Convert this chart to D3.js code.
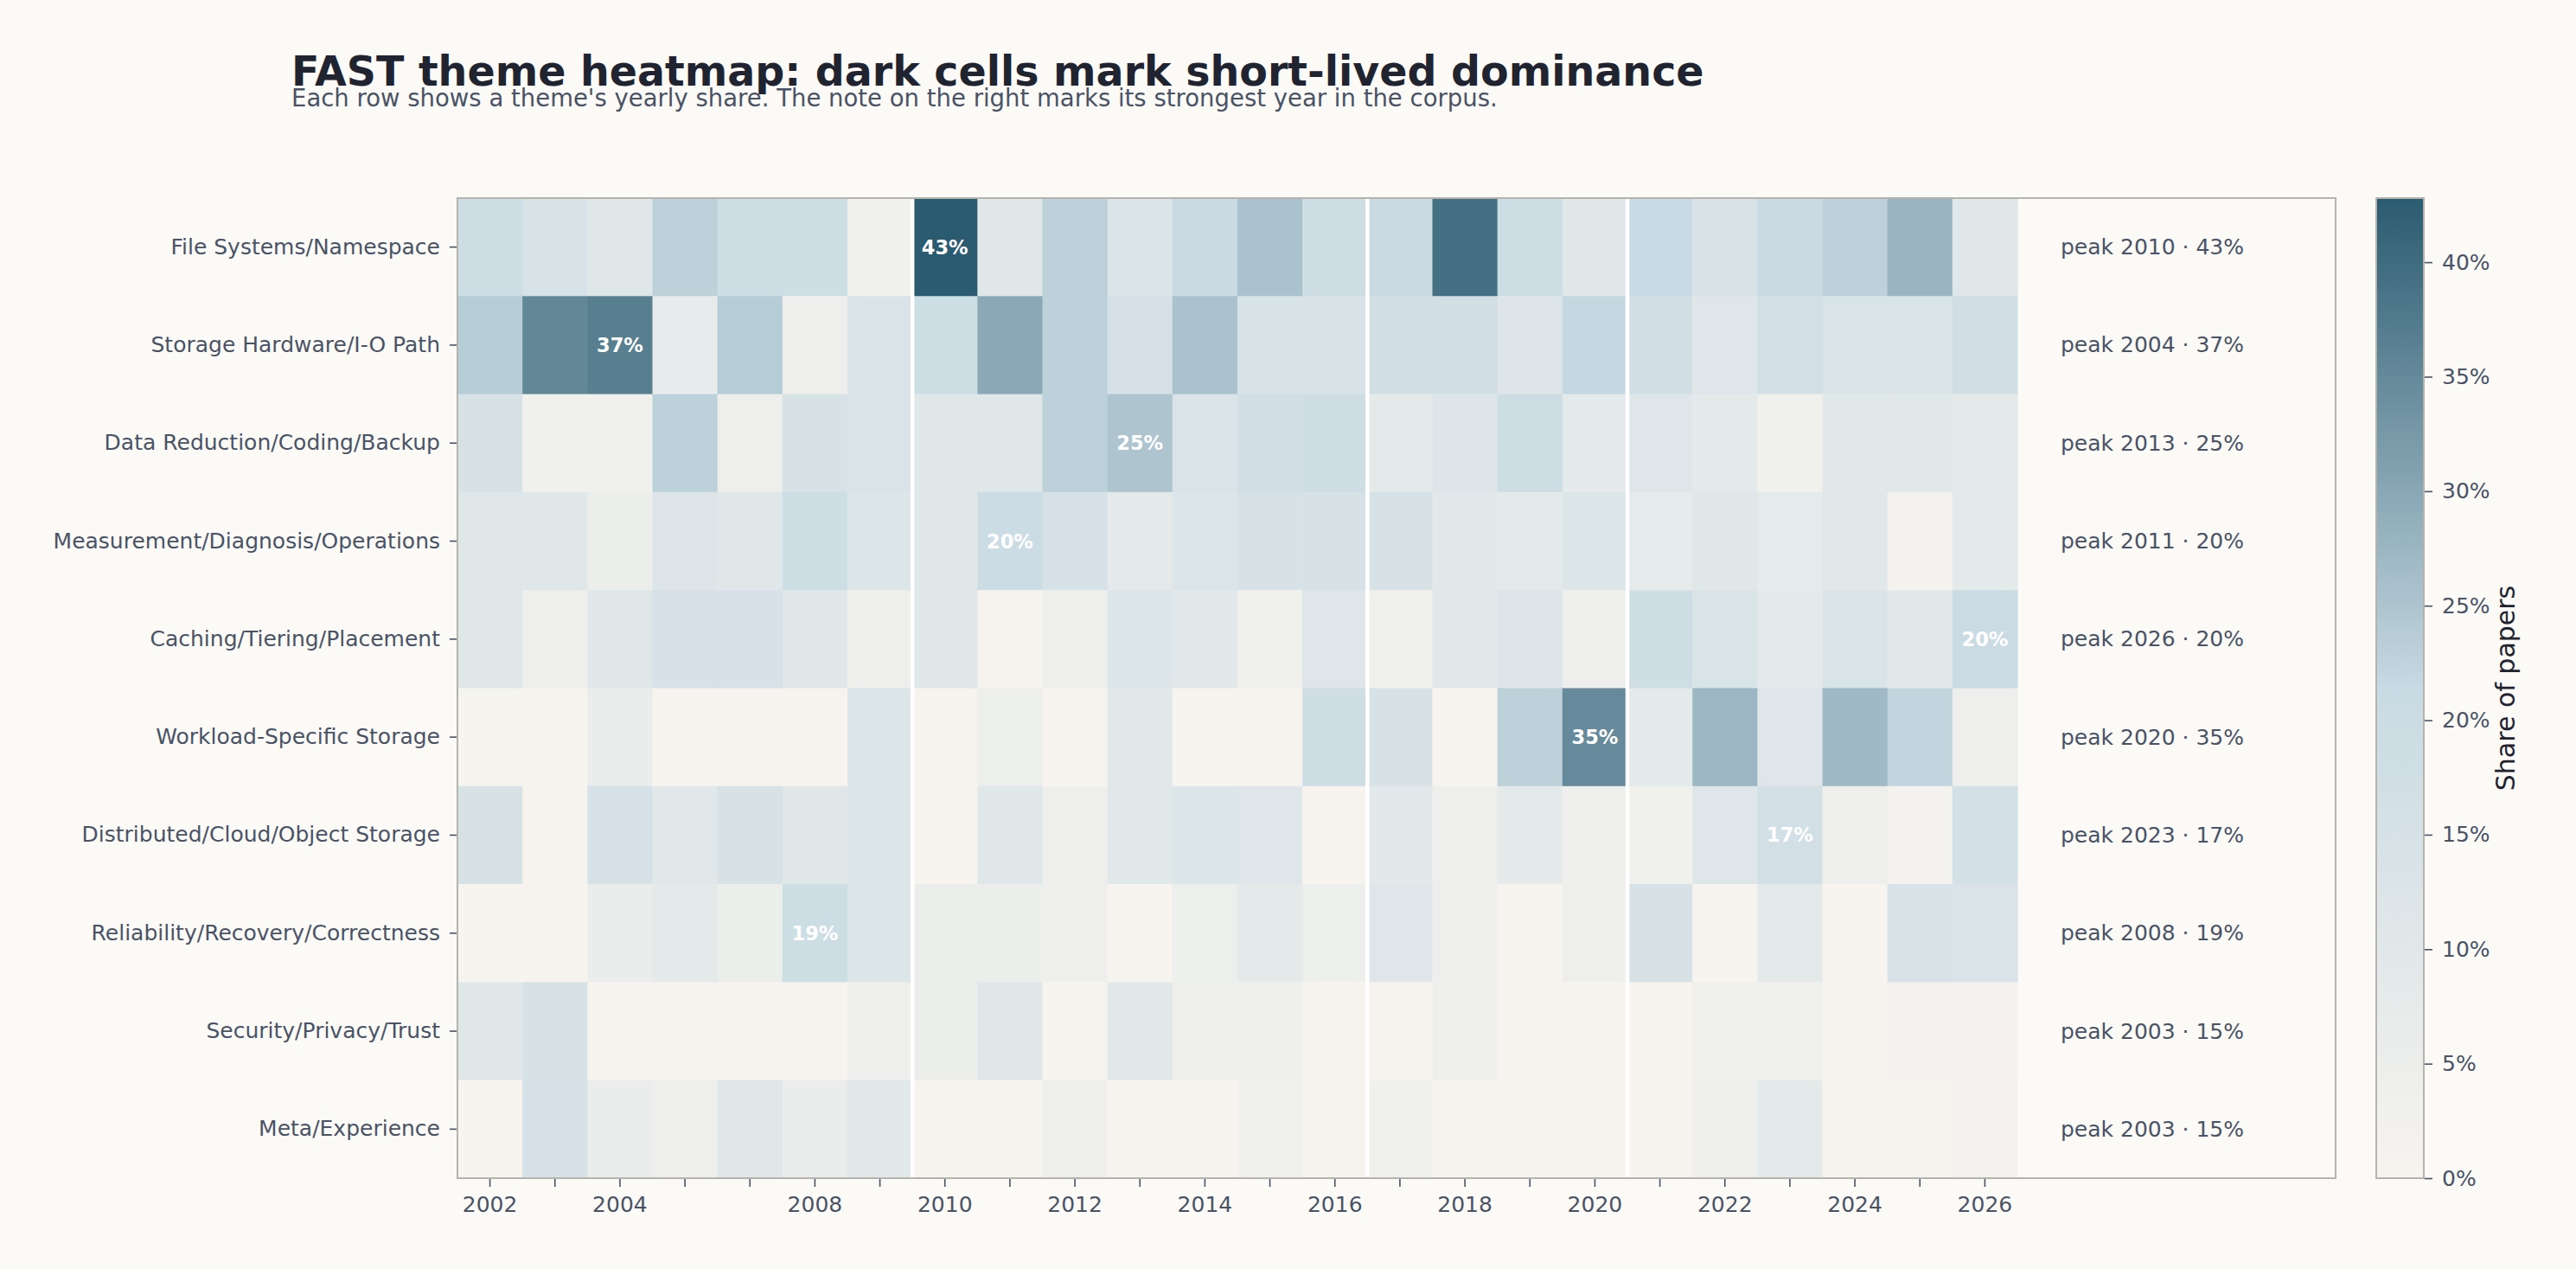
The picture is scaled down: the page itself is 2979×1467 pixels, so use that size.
<!DOCTYPE html>
<html>
<head>
<meta charset="utf-8">
<script src="https://cdn.jsdelivr.net/npm/d3@7"></script>
<style>
  html, body { margin: 0; padding: 0; background: #fbfaf7; }
  svg { display: block; }
  text { font-family: "DejaVu Sans", sans-serif; }
</style>
</head>
<body>
<svg id="chart" width="2979" height="1467"></svg>
<script>
// ---------------- data (shares in %) ----------------
const years = [2002, 2003, 2004, 2005, 2007, 2008, 2009, 2010, 2011, 2012, 2013, 2014, 2015, 2016,
               2017, 2018, 2019, 2020, 2021, 2022, 2023, 2024, 2025, 2026];
const themes = ["File Systems/Namespace", "Storage Hardware/I-O Path", "Data Reduction/Coding/Backup",
  "Measurement/Diagnosis/Operations", "Caching/Tiering/Placement", "Workload-Specific Storage",
  "Distributed/Cloud/Object Storage", "Reliability/Recovery/Correctness", "Security/Privacy/Trust",
  "Meta/Experience"];

const fileSystems  = [19, 14, 11, 23, 18.5, 18.5, 3.3, 42.8, 10.5, 23, 12.6, 21, 25.5, 18, 21, 39.3, 19, 10.3, 21.3, 13.6, 21, 23, 27.7, 10.3];
const storageHw    = [23.8, 35.3, 36.8, 7.5, 23.8, 4.2, 13, 18.5, 29.9, 23, 15.5, 25.5, 14, 14, 17.5, 17.5, 12, 21.8, 17.5, 11.5, 16.8, 13.5, 13.5, 17.5];
const dataReduction= [14.5, 3.3, 3.3, 23, 4.2, 14.5, 13, 10.5, 10.5, 23, 25, 13, 17.5, 18, 8.5, 12, 19, 8.5, 11.5, 8.5, 3, 10, 10, 8.5];
const measurement  = [11, 11, 5, 12, 11, 18.5, 12.5, 10.5, 19.6, 15, 8.5, 12.5, 14.5, 14.5, 14.5, 9, 8.5, 12.5, 8, 11, 8, 10, 1.5, 8.5];
const caching      = [11, 4, 11, 15, 15, 11, 4, 11, 0.5, 4, 12.5, 10, 3, 11.5, 3, 9.5, 12, 4, 18, 13.5, 8.5, 13.5, 9, 20.2];
const workload     = [0.3, 0.3, 6, 0, 0, 0, 12.5, 0, 4.5, 0, 10, 0, 0, 18, 14.5, 0, 23, 34.8, 8.5, 27.4, 11.5, 27, 22.3, 4];
const distributed  = [14.5, 0, 15, 10, 14.5, 10.5, 12.5, 0, 11, 4, 10, 12.5, 11.5, 0, 9, 4, 8.5, 4, 3, 11.5, 16.8, 4, 2, 16.3];
const reliability  = [0, 0, 6, 8.5, 5, 19.2, 12.5, 5, 5, 4, 0, 4.5, 8.5, 4.5, 11.5, 4, 0, 4, 14.5, 0, 8.5, 0, 14, 13];
const security     = [11, 15.2, 0, 0, 0, 0, 4, 5, 11, 0, 10, 4, 3.5, 0, 0, 4, 0, 0, 0, 3, 3, 0, 2.5, 1.5];
const meta         = [0, 15, 6, 4, 11, 6, 10, 0, 0, 4, 0, 0, 3, 0, 3, 0, 0, 0, 0, 4, 8.5, 0, 0, 2.5];

const seriesValues = [fileSystems, storageHw, dataReduction, measurement, caching, workload,
                      distributed, reliability, security, meta];
const eraStarts = [2010, 2017, 2021];
const colorbarTicks = [0, 5, 10, 15, 20, 25, 30, 35, 40];
const labelThreshold = 16;

const title = "FAST theme heatmap: dark cells mark short-lived dominance";
const subtitle = "Each row shows a theme's yearly share. The note on the right marks its strongest year in the corpus.";
const colorbarLabel = "Share of papers";

// ---------------- layout ----------------
const svg = d3.select("#chart");
const W = 2979, H = 1467;
svg.append("rect").attr("width", W).attr("height", H).attr("fill", "#fbfaf7");

const plot = { left: 529, top: 229, bottom: 1362, heatRight: 2333, frameRight: 2701 };
const cbar = { left: 2748, right: 2803 };
const textDark = "#1f2430", textMid = "#4a5365", spine = "#b5b3ad";

const x = d3.scaleBand().domain(years).range([plot.left, plot.heatRight]).padding(0);
const y = d3.scaleBand().domain(themes).range([plot.top, plot.bottom]).padding(0);

const cells = [];
themes.forEach((t, i) => years.forEach((yr, j) => cells.push({ theme: t, year: yr, value: seriesValues[i][j] })));
const vmax = d3.max(cells, d => d.value);
const color = d3.scaleLinear().domain([0, vmax / 2, vmax])
  .range(["#f7f4ef", "#c8dae3", "#2b5b70"]).interpolate(d3.interpolateRgb);

// title
svg.append("text").attr("x", 337).attr("y", 99).attr("font-size", 47.5).attr("font-weight", "bold")
  .attr("fill", textDark).text(title);
svg.append("text").attr("x", 337).attr("y", 123).attr("font-size", 27.5)
  .attr("fill", textMid).text(subtitle);

// cells
svg.append("g").selectAll("rect").data(cells).join("rect")
  .attr("x", d => x(d.year)).attr("y", d => y(d.theme))
  .attr("width", x.bandwidth() + 0.6).attr("height", y.bandwidth() + 0.6)
  .attr("fill", d => color(d.value));

// era separators
svg.append("g").selectAll("line").data(eraStarts).join("line")
  .attr("x1", d => x(d)).attr("x2", d => x(d))
  .attr("y1", plot.top).attr("y2", plot.bottom)
  .attr("stroke", "#ffffff").attr("stroke-width", 4.5);

// peaks
const peaks = themes.map((t, i) => {
  const vals = seriesValues[i];
  const j = d3.maxIndex(vals);
  return { theme: t, year: years[j], value: vals[j] };
});
svg.append("g").selectAll("text").data(peaks.filter(p => p.value >= labelThreshold)).join("text")
  .attr("x", d => x(d.year) + x.bandwidth() / 2).attr("y", d => y(d.theme) + y.bandwidth() / 2)
  .attr("text-anchor", "middle").attr("dominant-baseline", "central")
  .attr("font-size", 22.5).attr("font-weight", "bold").attr("fill", "#ffffff")
  .text(d => Math.round(d.value) + "%");

svg.append("g").selectAll("text").data(peaks).join("text")
  .attr("x", plot.heatRight + 50).attr("y", d => y(d.theme) + y.bandwidth() / 2)
  .attr("dominant-baseline", "central").attr("font-size", 25).attr("fill", textMid)
  .text(d => `peak ${d.year} · ${Math.round(d.value)}%`);

// frame
svg.append("rect").attr("x", plot.left).attr("y", plot.top)
  .attr("width", plot.frameRight - plot.left).attr("height", plot.bottom - plot.top)
  .attr("fill", "none").attr("stroke", spine).attr("stroke-width", 2);

// axes
const xAxis = svg.append("g").attr("transform", `translate(0,${plot.bottom + 1})`)
  .call(d3.axisBottom(x).tickSize(9).tickPadding(11).tickFormat(d => d % 2 === 0 ? d : ""));
const yAxis = svg.append("g").attr("transform", `translate(${plot.left - 1},0)`)
  .call(d3.axisLeft(y).tickSize(8).tickPadding(11));
[xAxis, yAxis].forEach(g => {
  g.select(".domain").remove();
  g.selectAll(".tick line").attr("stroke", textMid).attr("stroke-width", 1.6);
  g.selectAll(".tick text").attr("fill", textMid).attr("font-size", 25)
    .attr("font-family", "DejaVu Sans, sans-serif");
});

// colorbar
const cScale = d3.scaleLinear().domain([0, vmax]).range([plot.bottom, plot.top]);
const defs = svg.append("defs");
const grad = defs.append("linearGradient").attr("id", "cgrad")
  .attr("x1", 0).attr("y1", 1).attr("x2", 0).attr("y2", 0);
d3.range(0, 1.0001, 0.05).forEach(t => {
  grad.append("stop").attr("offset", t).attr("stop-color", color(t * vmax));
});
svg.append("rect").attr("x", cbar.left).attr("y", plot.top)
  .attr("width", cbar.right - cbar.left).attr("height", plot.bottom - plot.top)
  .attr("fill", "url(#cgrad)").attr("stroke", spine).attr("stroke-width", 2);
const cAxis = svg.append("g").attr("transform", `translate(${cbar.right + 1},0)`)
  .call(d3.axisRight(cScale).tickValues(colorbarTicks).tickSize(9).tickPadding(11).tickFormat(d => d + "%"));
cAxis.select(".domain").remove();
cAxis.selectAll(".tick line").attr("stroke", textMid).attr("stroke-width", 1.6);
cAxis.selectAll(".tick text").attr("fill", textMid).attr("font-size", 25)
  .attr("font-family", "DejaVu Sans, sans-serif");

svg.append("text")
  .attr("transform", `translate(2908,${(plot.top + plot.bottom) / 2}) rotate(-90)`)
  .attr("text-anchor", "middle").attr("font-size", 30).attr("fill", textDark)
  .text(colorbarLabel);
</script>
</body>
</html>
